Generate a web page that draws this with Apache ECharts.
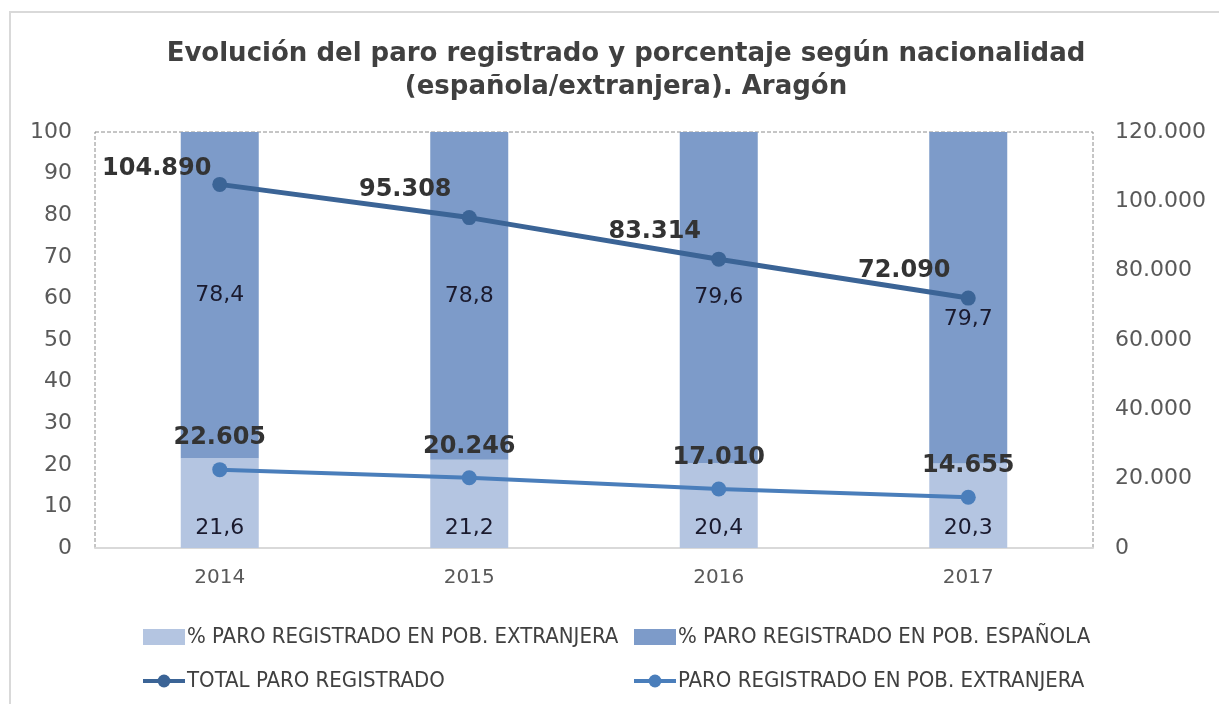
<!DOCTYPE html>
<html>
<head>
<meta charset="utf-8">
<script src="https://cdn.jsdelivr.net/npm/echarts@6/dist/echarts.min.js"></script>
<style>
    html, body { margin: 0; padding: 0; background: #fff; }
    #chart { width: 1219px; height: 704px; }
</style>
</head>
<body>
<div id="chart"></div>
<script>
(function () {
    'use strict';

    var years = ['2014', '2015', '2016', '2017'];
    var pctExtranjera = [21.6, 21.2, 20.4, 20.3];
    var pctEspanola = [78.4, 78.8, 79.6, 79.7];
    var totalParo = [104890, 95308, 83314, 72090];
    var paroExtranjera = [22605, 20246, 17010, 14655];
    var leftTicks = [0, 100, 10];
    var rightTicks = [0, 120000, 20000];

    var axisFont = 'DejaVu Sans';
    var legendFont = 'DejaVu Sans Condensed';

    function miles(v) {
        return String(v).replace(/\B(?=(\d{3})+(?!\d))/g, '.');
    }
    function coma(v) {
        return String(v).replace('.', ',');
    }

    // etiquetas de la serie total: desplazadas a la izquierda
    var totalData = totalParo.map(function (v, i) {
        return {
            value: v,
            label: { offset: i === 0 ? [-63, 14] : [-64, 2] }
        };
    });
    // la etiqueta 79,7 está movida hacia abajo en el original
    var espData = pctEspanola.map(function (v, i) {
        return {
            value: v,
            label: { offset: i === 3 ? [0, 22] : [0, 0] }
        };
    });

    var legendText = { fontFamily: legendFont, fontSize: 22, color: '#404040', padding: [0, 0, 0, -3] };

    var chart = echarts.init(document.getElementById('chart'));

    chart.setOption({
        backgroundColor: '#fff',
        animation: false,
        title: {
            text: 'Evolución del paro registrado y porcentaje según nacionalidad\n(española/extranjera). Aragón',
            left: 621,
            textAlign: 'center',
            top: 33,
            textStyle: {
                fontFamily: axisFont,
                fontWeight: 'bold',
                fontSize: 26,
                color: '#404040',
                lineHeight: 33
            }
        },
        graphic: [{
            type: 'rect',
            shape: { x: 10, y: 12, width: 1220, height: 700 },
            style: { fill: 'none', stroke: '#d9d9d9', lineWidth: 2 },
            silent: true
        }],
        legend: [{
            left: 136,
            top: 621,
            orient: 'vertical',
            itemGap: 22,
            itemWidth: 42,
            itemHeight: 16,
            lineStyle: { width: 4 },
            data: [
                { name: '% PARO REGISTRADO EN POB. EXTRANJERA', icon: 'rect' },
                'TOTAL PARO REGISTRADO'
            ],
            textStyle: legendText
        }, {
            left: 627,
            top: 621,
            orient: 'vertical',
            itemGap: 22,
            itemWidth: 42,
            itemHeight: 16,
            lineStyle: { width: 4 },
            data: [
                { name: '% PARO REGISTRADO EN POB. ESPAÑOLA', icon: 'rect' },
                'PARO REGISTRADO EN POB. EXTRANJERA'
            ],
            textStyle: legendText
        }],
        grid: {
            left: 95,
            right: 126,
            top: 132,
            bottom: 156,
            show: true,
            borderColor: '#8c8c8c',
            borderWidth: 1,
            borderType: 'dashed'
        },
        xAxis: {
            type: 'category',
            data: years,
            axisLine: { show: true, lineStyle: { color: '#d9d9d9', width: 2 } },
            axisTick: { show: false },
            axisLabel: { fontFamily: axisFont, fontSize: 20, color: '#595959', margin: 20 }
        },
        yAxis: [{
            type: 'value',
            min: leftTicks[0],
            max: leftTicks[1],
            interval: leftTicks[2],
            splitLine: { show: false },
            axisLine: { show: false },
            axisTick: { show: false },
            axisLabel: { fontFamily: axisFont, fontSize: 22, color: '#595959', margin: 23 }
        }, {
            type: 'value',
            min: rightTicks[0],
            max: rightTicks[1],
            interval: rightTicks[2],
            splitLine: { show: false },
            axisLine: { show: false },
            axisTick: { show: false },
            axisLabel: {
                fontFamily: axisFont, fontSize: 22, color: '#595959', margin: 22,
                formatter: function (v) { return miles(v); }
            }
        }],
        series: [{
            name: '% PARO REGISTRADO EN POB. EXTRANJERA',
            type: 'bar',
            stack: 'pct',
            barWidth: 78,
            data: pctExtranjera,
            itemStyle: { color: '#b4c5e1' },
            label: {
                show: true,
                position: 'insideBottom',
                distance: 9,
                fontFamily: axisFont,
                fontSize: 22,
                color: '#1a1a2e',
                formatter: function (p) { return coma(p.value); }
            }
        }, {
            name: '% PARO REGISTRADO EN POB. ESPAÑOLA',
            type: 'bar',
            stack: 'pct',
            barWidth: 78,
            data: espData,
            itemStyle: { color: '#7d9bc9' },
            label: {
                show: true,
                position: 'inside',
                fontFamily: axisFont,
                fontSize: 22,
                color: '#1a1a2e',
                formatter: function (p) { return coma(p.value); }
            }
        }, {
            name: 'TOTAL PARO REGISTRADO',
            type: 'line',
            yAxisIndex: 1,
            data: totalData,
            symbol: 'circle',
            symbolSize: 15,
            lineStyle: { color: '#3b6496', width: 5 },
            itemStyle: { color: '#3b6496' },
            label: {
                show: true,
                position: 'top',
                distance: 10,
                fontFamily: axisFont,
                fontWeight: 'bold',
                fontSize: 24,
                color: '#333333',
                formatter: function (p) { return miles(p.value); }
            }
        }, {
            name: 'PARO REGISTRADO EN POB. EXTRANJERA',
            type: 'line',
            yAxisIndex: 1,
            data: paroExtranjera,
            symbol: 'circle',
            symbolSize: 15,
            lineStyle: { color: '#4a7ebb', width: 4 },
            itemStyle: { color: '#4a7ebb' },
            label: {
                show: true,
                position: 'top',
                distance: 12,
                fontFamily: axisFont,
                fontWeight: 'bold',
                fontSize: 24,
                color: '#333333',
                formatter: function (p) { return miles(p.value); }
            }
        }]
    });
})();
</script>
</body>
</html>
